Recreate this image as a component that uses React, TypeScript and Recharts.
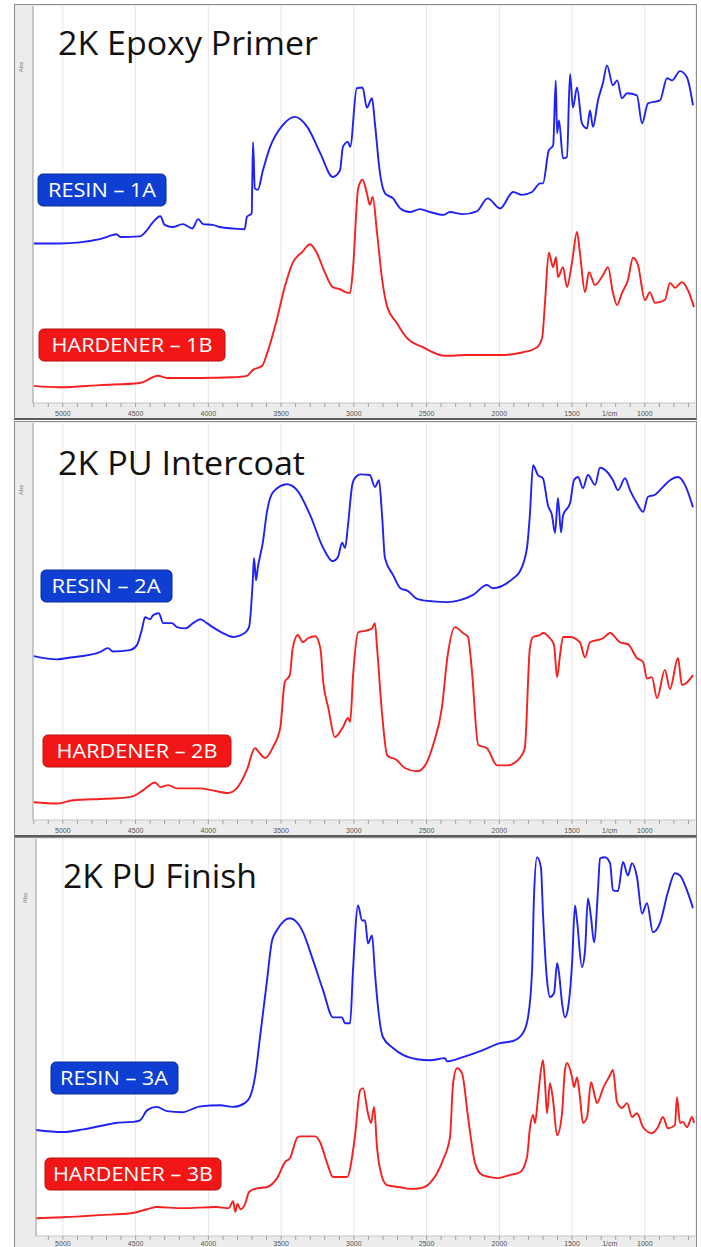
import React from 'react';
import { LineChart, Line, XAxis, YAxis, CartesianGrid } from 'recharts';

// FTIR spectra: [wavenumber (1/cm), absorbance (arbitrary, offset per trace)]
const epoxyResin: [number, number][] = [
  [5200, 1.95], [5020, 1.95], [4745, 2.01], [4700, 2.04], [4630, 2.08], [4605, 2.04], [4470, 2.05],
  [4420, 2.14], [4380, 2.25], [4330, 2.33], [4300, 2.21], [4245, 2.18], [4175, 2.22], [4110, 2.16],
  [4070, 2.29], [4035, 2.22], [3970, 2.21], [3920, 2.18], [3830, 2.16], [3750, 2.15], [3735, 2.32],
  [3702, 2.37], [3693, 3.37], [3680, 2.72], [3660, 2.7], [3625, 2.97], [3575, 3.3], [3490, 3.6],
  [3405, 3.72], [3320, 3.58], [3230, 3.21], [3145, 2.88], [3095, 2.97], [3075, 3.3], [3040, 3.37],
  [3025, 3.3], [2980, 4.12], [2940, 4.13], [2910, 3.85], [2875, 3.98], [2855, 3.63], [2820, 2.93],
  [2785, 2.65], [2730, 2.58], [2680, 2.44], [2615, 2.39], [2545, 2.43], [2475, 2.39], [2385, 2.35],
  [2340, 2.39], [2250, 2.36], [2155, 2.4], [2080, 2.58], [1995, 2.44], [1905, 2.67], [1845, 2.63],
  [1775, 2.67], [1720, 2.79], [1700, 2.79], [1660, 3.25], [1630, 3.32], [1612, 4.23], [1603, 3.49],
  [1590, 3.67], [1562, 3.14], [1535, 3.16], [1514, 4.32], [1494, 3.85], [1466, 4.13], [1432, 3.63],
  [1397, 3.56], [1377, 3.81], [1356, 3.58], [1322, 3.95], [1287, 4.2], [1260, 4.44], [1219, 4.16],
  [1190, 4.23], [1157, 3.98], [1122, 4.05], [1054, 4.02], [1019, 3.63], [978, 3.91], [896, 3.95],
  [847, 4.26], [813, 4.23], [758, 4.36], [710, 4.27], [669, 3.88],
];

const epoxyHardener: [number, number][] = [
  [5200, -0.04], [5020, -0.06], [4745, -0.03], [4470, 0.0], [4345, 0.1], [4285, 0.07], [4060, 0.07],
  [3830, 0.08], [3735, 0.1], [3695, 0.18], [3630, 0.24], [3595, 0.42], [3530, 0.88], [3475, 1.34],
  [3420, 1.68], [3355, 1.83], [3300, 1.94], [3255, 1.82], [3200, 1.55], [3145, 1.34], [3095, 1.31],
  [3040, 1.26], [3025, 1.26], [3005, 1.62], [2970, 2.72], [2940, 2.84], [2910, 2.65], [2890, 2.49],
  [2870, 2.6], [2840, 2.09], [2805, 1.44], [2770, 1.06], [2705, 0.84], [2635, 0.63], [2525, 0.5],
  [2375, 0.38], [2220, 0.39], [1995, 0.39], [1835, 0.43], [1740, 0.5], [1705, 0.64], [1685, 1.16],
  [1660, 1.82], [1630, 1.62], [1610, 1.76], [1597, 1.48], [1562, 1.62], [1535, 1.34], [1500, 1.69],
  [1466, 2.11], [1446, 1.82], [1411, 1.27], [1384, 1.55], [1342, 1.37], [1287, 1.51], [1253, 1.62],
  [1219, 1.26], [1191, 1.09], [1157, 1.26], [1116, 1.44], [1081, 1.75], [1047, 1.65], [999, 1.16],
  [965, 1.27], [930, 1.12], [862, 1.16], [827, 1.4], [793, 1.33], [745, 1.41], [704, 1.3], [662, 1.06],
];

const intercoatResin: [number, number][] = [
  [5200, 1.84], [5040, 1.79], [4970, 1.81], [4745, 1.9], [4690, 1.96], [4655, 1.91], [4540, 1.93],
  [4490, 2.01], [4455, 2.26], [4435, 2.43], [4400, 2.4], [4380, 2.46], [4340, 2.49], [4310, 2.34],
  [4250, 2.34], [4215, 2.28], [4160, 2.26], [4105, 2.34], [4055, 2.4], [4010, 2.34], [3970, 2.28],
  [3900, 2.19], [3830, 2.13], [3750, 2.19], [3720, 2.28], [3695, 2.96], [3686, 3.33], [3672, 2.99],
  [3660, 3.18], [3625, 3.57], [3597, 4.03], [3555, 4.33], [3460, 4.45], [3390, 4.36], [3300, 3.98],
  [3210, 3.48], [3145, 3.28], [3110, 3.34], [3080, 3.56], [3060, 3.48], [3040, 3.83], [3010, 4.45],
  [2990, 4.55], [2955, 4.6], [2890, 4.59], [2855, 4.41], [2827, 4.51], [2806, 3.98], [2786, 3.33],
  [2730, 3.07], [2680, 2.87], [2630, 2.83], [2565, 2.71], [2455, 2.67], [2360, 2.66], [2270, 2.69],
  [2180, 2.77], [2085, 2.92], [2045, 2.87], [1905, 3.02], [1860, 3.12], [1810, 3.48], [1790, 3.98],
  [1768, 4.74], [1735, 4.59], [1700, 4.54], [1666, 4.13], [1638, 3.98], [1617, 3.71], [1597, 4.24],
  [1576, 3.72], [1562, 3.98], [1514, 4.16], [1487, 4.51], [1459, 4.56], [1425, 4.39], [1391, 4.59],
  [1342, 4.44], [1308, 4.7], [1260, 4.64], [1219, 4.51], [1184, 4.36], [1136, 4.54], [1102, 4.36],
  [1054, 4.16], [1012, 4.03], [978, 4.26], [930, 4.29], [875, 4.41], [827, 4.51], [772, 4.56],
  [724, 4.44], [669, 4.1],
];

const intercoatHardener: [number, number][] = [
  [5200, -0.38], [5040, -0.4], [4930, -0.35], [4745, -0.33], [4630, -0.32], [4520, -0.29], [4450, -0.2],
  [4365, -0.08], [4330, -0.15], [4275, -0.12], [4215, -0.17], [4060, -0.17], [3970, -0.2], [3865, -0.24],
  [3805, -0.17], [3735, 0.11], [3680, 0.44], [3645, 0.36], [3610, 0.29], [3555, 0.46], [3505, 0.76],
  [3475, 1.44], [3440, 1.55], [3420, 1.96], [3385, 2.16], [3350, 2.05], [3315, 2.11], [3265, 2.14],
  [3230, 1.96], [3210, 1.44], [3175, 1.05], [3130, 0.61], [3075, 0.76], [3040, 0.9], [3025, 0.84],
  [3005, 1.55], [2970, 2.2], [2910, 2.23], [2875, 2.26], [2855, 2.34], [2840, 1.96], [2805, 0.94],
  [2770, 0.33], [2705, 0.26], [2650, 0.14], [2565, 0.09], [2510, 0.18], [2455, 0.49], [2395, 1.05],
  [2355, 1.85], [2305, 2.28], [2250, 2.19], [2215, 2.13], [2190, 1.66], [2145, 0.49], [2085, 0.44],
  [2015, 0.18], [1945, 0.18], [1860, 0.29], [1825, 0.44], [1790, 1.96], [1768, 2.13], [1720, 2.16],
  [1700, 2.19], [1652, 2.11], [1624, 2.01], [1603, 1.52], [1583, 1.85], [1562, 2.13], [1514, 2.13],
  [1446, 2.05], [1411, 1.82], [1377, 2.05], [1287, 2.11], [1239, 2.19], [1171, 2.05], [1116, 2.02],
  [1054, 1.81], [1012, 1.75], [985, 1.5], [951, 1.52], [916, 1.2], [862, 1.63], [827, 1.34],
  [772, 1.81], [745, 1.4], [710, 1.44], [669, 1.55],
];

const finishResin: [number, number][] = [
  [5185, 1.03], [5000, 0.99], [4860, 1.04], [4675, 1.14], [4640, 1.16], [4520, 1.18], [4470, 1.21],
  [4420, 1.4], [4355, 1.46], [4285, 1.38], [4180, 1.36], [4055, 1.47], [3920, 1.49], [3830, 1.46],
  [3750, 1.53], [3715, 1.64], [3680, 2.01], [3645, 2.76], [3597, 3.82], [3562, 4.57], [3528, 4.76],
  [3440, 4.98], [3356, 4.76], [3281, 4.2], [3212, 3.64], [3143, 3.13], [3081, 3.13], [3061, 3.02],
  [3026, 3.02], [3006, 4.01], [2971, 5.22], [2944, 4.94], [2923, 4.94], [2903, 4.51], [2875, 4.66],
  [2855, 3.96], [2834, 3.32], [2800, 2.76], [2731, 2.56], [2662, 2.43], [2566, 2.35], [2476, 2.33],
  [2373, 2.37], [2360, 2.31], [2250, 2.39], [2112, 2.52], [1995, 2.65], [1906, 2.69], [1837, 2.84],
  [1803, 3.13], [1775, 4.01], [1762, 5.37], [1741, 6.12], [1714, 5.93], [1700, 5.07], [1672, 3.82],
  [1652, 3.51], [1624, 3.58], [1603, 4.14], [1590, 3.96], [1569, 3.4], [1549, 3.13], [1528, 3.3],
  [1500, 4.14], [1480, 5.22], [1466, 4.94], [1432, 4.07], [1411, 4.38], [1391, 5.35], [1370, 5.0],
  [1349, 4.53], [1322, 5.5], [1308, 6.1], [1274, 6.12], [1239, 6.01], [1219, 5.5], [1184, 5.49],
  [1150, 6.03], [1116, 5.78], [1088, 6.01], [1054, 5.75], [1019, 5.07], [985, 5.26], [944, 4.72],
  [896, 4.89], [841, 5.47], [793, 5.82], [758, 5.78], [710, 5.5], [669, 5.17],
];

const finishHardener: [number, number][] = [
  [5185, -0.62], [5000, -0.6], [4745, -0.56], [4520, -0.52], [4420, -0.45], [4355, -0.41], [4180, -0.43],
  [3945, -0.41], [3860, -0.43], [3830, -0.3], [3815, -0.5], [3800, -0.35], [3780, -0.45], [3750, -0.37],
  [3720, -0.13], [3665, -0.06], [3600, -0.04], [3528, 0.13], [3473, 0.43], [3440, 0.5], [3390, 0.88],
  [3370, 0.91], [3267, 0.91], [3232, 0.8], [3184, 0.41], [3143, 0.15], [3047, 0.15], [2993, 0.9],
  [2957, 1.77], [2937, 1.81], [2903, 1.34], [2882, 1.16], [2861, 1.46], [2841, 0.71], [2806, 0.15],
  [2772, 0.0], [2682, -0.04], [2614, -0.07], [2545, -0.06], [2476, 0.04], [2387, 0.47], [2339, 0.9],
  [2318, 1.9], [2291, 2.18], [2257, 2.09], [2215, 1.27], [2167, 0.41], [2119, 0.19], [2064, 0.15],
  [2009, 0.13], [1926, 0.19], [1858, 0.24], [1810, 0.52], [1789, 1.08], [1768, 1.31], [1755, 1.16],
  [1734, 1.64], [1720, 2.01], [1700, 2.33], [1686, 1.9], [1672, 1.34], [1652, 1.9], [1631, 1.59],
  [1603, 0.93], [1569, 1.34], [1549, 2.15], [1535, 2.28], [1500, 2.01], [1487, 1.83], [1466, 2.01],
  [1446, 1.64], [1425, 1.16], [1397, 1.27], [1370, 1.92], [1342, 1.64], [1329, 1.53], [1287, 1.81],
  [1239, 2.05], [1219, 2.15], [1191, 1.55], [1157, 1.44], [1122, 1.53], [1088, 1.27], [1054, 1.34],
  [1012, 1.08], [951, 0.97], [910, 1.08], [875, 1.27], [841, 1.06], [793, 1.12], [779, 1.64],
  [758, 1.16], [738, 1.18], [710, 1.08], [676, 1.27], [662, 1.16],
];

const titles = ['2K Epoxy Primer', '2K PU Intercoat', '2K PU Finish'];
const resinNames = ['RESIN – 1A', 'RESIN – 2A', 'RESIN – 3A'];
const hardenerNames = ['HARDENER – 1B', 'HARDENER – 2B', 'HARDENER – 3B'];
const xTickLabels = [5000, 4500, 4000, 3500, 3000, 2500, 2000, 1500, 1000];
const xUnit = '1/cm';
const yName = 'Abs';

const BLUE = '#1f22f2';
const RED = '#f5201f';

const minorX: number[] = [];
for (let w = 700; w <= 5200; w += 100) minorX.push(w);

const minorY = (lo: number, hi: number) => {
  const out: number[] = [];
  for (let v = Math.ceil(lo * 5) / 5; v <= hi; v += 0.2) out.push(Math.round(v * 100) / 100);
  return out;
};

const pts = (arr: [number, number][]) => arr.map(([w, a]) => ({ w, a }));

const panels = [
  {
    top: 4, left: 18, xMax: 5205, yDomain: [-0.28, 5.27], grid: [0, 1, 2, 3, 4, 5], labelDy: 7,
    resin: epoxyResin, hardener: epoxyHardener,
    title: { x: 58, y: 55, w: 260 },
    rBox: { x: 38, y: 174, w: 128, tx: 102, tw: 108 },
    hBox: { x: 39, y: 329, w: 186, tx: 132, tw: 161 },
    absY: 67,
  },
  {
    top: 421, left: 18, xMax: 5205, yDomain: [-0.65, 5.38], grid: [0, 1, 2, 3, 4, 5], labelDy: 7,
    resin: intercoatResin, hardener: intercoatHardener,
    title: { x: 58, y: 475, w: 247 },
    rBox: { x: 41, y: 570, w: 131, tx: 106, tw: 109 },
    hBox: { x: 43, y: 735, w: 188, tx: 137, tw: 161 },
    absY: 490,
  },
  {
    top: 837, left: 21, xMax: 5185, yDomain: [-0.95, 6.46], grid: [0, 1, 2, 3, 4, 5, 6], labelDy: 4,
    resin: finishResin, hardener: finishHardener,
    title: { x: 63, y: 888, w: 194 },
    rBox: { x: 51, y: 1062, w: 127, tx: 114, tw: 108 },
    hBox: { x: 45, y: 1158, w: 176, tx: 133, tw: 160 },
    absY: 898,
  },
];

const XTick = (props: any) => {
  const { x, y, payload, labelDy } = props;
  const v = payload.value;
  let label = '';
  let dx = 0;
  if (xTickLabels.includes(v)) label = String(v);
  else if (v === 1200) {
    label = xUnit;
    dx = -6;
  }
  if (!label) return null;
  return (
    <text x={x + dx} y={y + labelDy} textAnchor="middle" fontSize={7} fill="#555" fontFamily="Liberation Sans, sans-serif">
      {label}
    </text>
  );
};

const Panel = ({ p }: { p: (typeof panels)[number] }) => {
  const [lo, hi] = p.yDomain;
  return (
    <div
      style={{
        position: 'absolute', left: 14, top: p.top, width: 683, height: 416, boxSizing: 'border-box',
        border: '1px solid #8c8c8c', borderBottom: '2px solid #5c5c5c', background: '#ececec',
      }}
    >
      <LineChart width={681} height={413} margin={{ top: 1, right: 1, bottom: 0, left: 0 }}>
        <CartesianGrid
          fill="#ffffff"
          stroke="#e6e6e6"
          horizontalValues={p.grid}
          verticalValues={xTickLabels}
        />
        <XAxis
          dataKey="w" type="number" domain={[655, p.xMax]} reversed allowDataOverflow
          ticks={minorX.filter((w) => w <= p.xMax)} interval={0} tick={<XTick labelDy={p.labelDy} />}
          tickSize={4} tickLine={{ stroke: '#a0a0a0' }} axisLine={{ stroke: '#c4c4c4' }} height={15}
        />
        <YAxis
          type="number" domain={[lo, hi]} allowDataOverflow ticks={minorY(lo, hi)} interval={0}
          tick={false} tickSize={6} tickLine={{ stroke: '#9a9a9a' }} axisLine={{ stroke: '#9a9a9a' }} width={p.left}
        />
        <Line data={pts(p.resin)} dataKey="a" type="monotone" stroke={BLUE} strokeWidth={1.9} dot={false} isAnimationActive={false} />
        <Line data={pts(p.hardener)} dataKey="a" type="monotone" stroke={RED} strokeWidth={1.9} dot={false} isAnimationActive={false} />
      </LineChart>
    </div>
  );
};

export default function App() {
  return (
    <div style={{ position: 'absolute', left: 0, top: 0, width: 701, height: 1247, background: '#fff', overflow: 'hidden' }}>
      {panels.map((p, i) => (
        <Panel key={i} p={p} />
      ))}
      <svg width={701} height={1247} style={{ position: 'absolute', left: 0, top: 0, pointerEvents: 'none' }}>
        {panels.map((p, i) => (
          <g key={i}>
            <text
              x={p.title.x} y={p.title.y} fontSize={32} fill="#111" fontFamily="Open Sans, sans-serif"
              textLength={p.title.w} lengthAdjust="spacingAndGlyphs"
            >
              {titles[i]}
            </text>
            <text
              x={0} y={0} fontSize={6} fill="#777" fontFamily="Liberation Sans, sans-serif" textAnchor="middle"
              transform={`translate(${i === 2 ? 27 : 23}, ${p.absY}) rotate(-90)`}
            >
              {yName}
            </text>
            <rect x={p.rBox.x} y={p.rBox.y} width={p.rBox.w} height={32} rx={5} fill="#0f3fd2" stroke="#0a2c9a" strokeWidth={1} />
            <text
              x={p.rBox.tx} y={p.rBox.y + 23} fontSize={20} fill="#fff" textAnchor="middle"
              fontFamily="Open Sans, sans-serif" textLength={p.rBox.tw} lengthAdjust="spacingAndGlyphs"
            >
              {resinNames[i]}
            </text>
            <rect x={p.hBox.x} y={p.hBox.y} width={p.hBox.w} height={32} rx={5} fill="#f21616" stroke="#b51010" strokeWidth={1} />
            <text
              x={p.hBox.tx} y={p.hBox.y + 23} fontSize={20} fill="#fff" textAnchor="middle"
              fontFamily="Open Sans, sans-serif" textLength={p.hBox.tw} lengthAdjust="spacingAndGlyphs"
            >
              {hardenerNames[i]}
            </text>
          </g>
        ))}
      </svg>
    </div>
  );
}
